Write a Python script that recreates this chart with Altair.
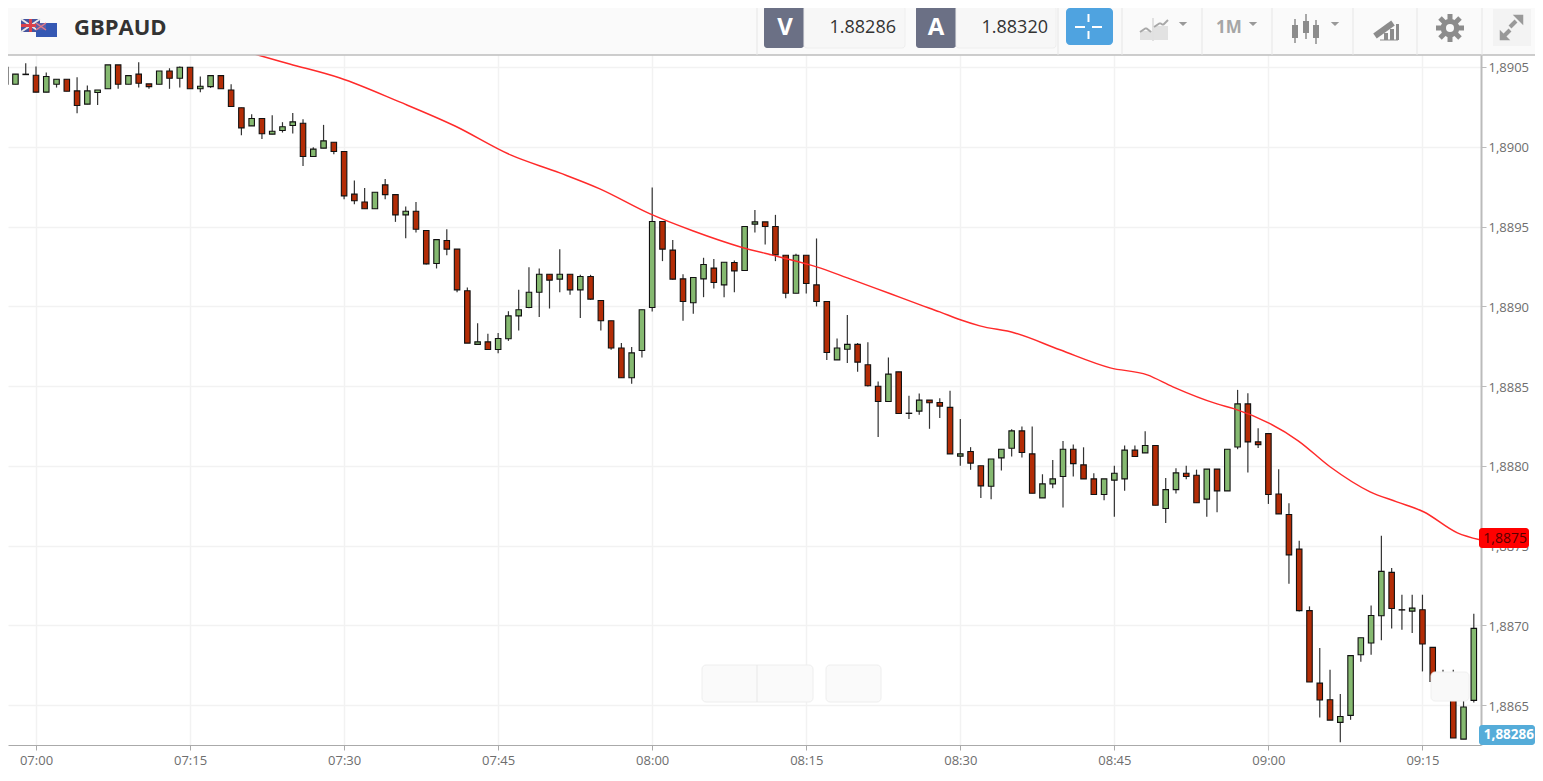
import altair as alt
import pandas as pd

# Candle values, one per minute from 06:57 (minute 417 of the day)
first_minute = 417
opens = [1.890498,1.890392,1.890452,1.890448,1.890342,1.890392,1.890423,1.890350,1.890267,1.890340,1.890363,1.890513,1.890392,1.890455,1.890394,1.890392,1.890475,1.890429,1.890498,1.890363,1.890377,1.890446,1.890356,1.890244,
 1.890131,1.890177,1.890079,1.890102,1.890133,1.890147,1.889939,1.889991,1.890028,1.889970,1.889703,1.889654,1.889611,1.889761,1.889700,1.889573,1.889596,1.889475,1.889268,1.889412,1.889358,1.889097,1.888761,1.888777,
 1.888729,1.888796,1.888940,1.888992,1.889088,1.889201,1.889170,1.889201,1.889103,1.889187,1.889036,1.888909,1.888738,1.888552,1.888723,1.888992,1.889531,1.889352,1.889172,1.889022,1.889172,1.889239,1.889134,1.889274,
 1.889224,1.889515,1.889529,1.889500,1.889320,1.889082,1.889320,1.889134,1.889030,1.888664,1.888731,1.888761,1.888633,1.888499,1.888403,1.888589,1.888330,1.888343,1.888412,1.888397,1.888366,1.888061,1.888090,1.888000,
 1.887872,1.888050,1.888110,1.888219,1.888075,1.887799,1.887887,1.887933,1.888104,1.888006,1.887918,1.887820,1.887910,1.887918,1.888098,1.888081,1.888127,1.887732,1.887851,1.887953,1.887941,1.887791,1.887979,1.887843,
 1.888118,1.888388,1.888150,1.888202,1.887823,1.887695,1.887478,1.887092,1.886638,1.886534,1.886392,1.886436,1.886816,1.886889,1.887060,1.887332,1.887098,1.887089,1.887098,1.886862,1.886649,1.886565,1.886287,1.886530]
closes = [1.890392,1.890455,1.890455,1.890342,1.890440,1.890423,1.890348,1.890258,1.890350,1.890356,1.890513,1.890392,1.890446,1.890398,1.890377,1.890475,1.890429,1.890498,1.890363,1.890379,1.890446,1.890363,1.890252,1.890118,
 1.890177,1.890081,1.890097,1.890125,1.890156,1.889939,1.889985,1.890037,1.889970,1.889692,1.889661,1.889611,1.889715,1.889700,1.889573,1.889596,1.889483,1.889266,1.889418,1.889358,1.889103,1.888769,1.888777,1.888729,
 1.888798,1.888940,1.888978,1.889088,1.889201,1.889164,1.889201,1.889103,1.889187,1.889045,1.888909,1.888738,1.888552,1.888708,1.888978,1.889531,1.889358,1.889170,1.889030,1.889180,1.889262,1.889149,1.889276,1.889222,
 1.889500,1.889529,1.889500,1.889322,1.889082,1.889320,1.889143,1.889030,1.888710,1.888738,1.888761,1.888650,1.888502,1.888403,1.888575,1.888328,1.888328,1.888412,1.888395,1.888374,1.888075,1.888075,1.888017,1.887874,
 1.888043,1.888104,1.888219,1.888083,1.887828,1.887887,1.887918,1.888104,1.888014,1.887918,1.887820,1.887918,1.887953,1.888098,1.888058,1.888127,1.887753,1.887851,1.887956,1.887933,1.887768,1.887979,1.887843,1.888104,
 1.888388,1.888150,1.888133,1.887820,1.887699,1.887442,1.887092,1.886645,1.886532,1.886406,1.886429,1.886810,1.886922,1.887062,1.887338,1.887106,1.887096,1.887108,1.886883,1.886649,1.886565,1.886294,1.886488,1.886981]
highs = [1.890498,1.890455,1.890523,1.890503,1.890465,1.890423,1.890423,1.890436,1.890384,1.890356,1.890513,1.890513,1.890446,1.890530,1.890394,1.890475,1.890492,1.890503,1.890498,1.890440,1.890446,1.890446,1.890392,1.890244,
 1.890204,1.890177,1.890198,1.890154,1.890212,1.890173,1.889997,1.890137,1.890028,1.889970,1.889788,1.889742,1.889715,1.889797,1.889700,1.889625,1.889654,1.889475,1.889418,1.889483,1.889358,1.889118,1.888894,1.888827,
 1.888832,1.888969,1.889103,1.889245,1.889237,1.889201,1.889358,1.889201,1.889197,1.889197,1.889036,1.888909,1.888769,1.888744,1.888978,1.889744,1.889531,1.889416,1.889201,1.889180,1.889304,1.889297,1.889276,1.889287,
 1.889500,1.889604,1.889529,1.889573,1.889320,1.889329,1.889320,1.889425,1.889030,1.888798,1.888946,1.888769,1.888775,1.888529,1.888679,1.888589,1.888439,1.888453,1.888412,1.888424,1.888470,1.888293,1.888117,1.888000,
 1.888043,1.888104,1.888229,1.888246,1.888246,1.887947,1.888037,1.888156,1.888133,1.888116,1.887953,1.887918,1.888000,1.888127,1.888127,1.888217,1.888127,1.887924,1.887985,1.888000,1.887976,1.887979,1.887979,1.888104,
 1.888476,1.888455,1.888235,1.888202,1.887979,1.887766,1.887530,1.887119,1.886858,1.886722,1.886569,1.886810,1.886922,1.887125,1.887561,1.887359,1.887192,1.887192,1.887192,1.886862,1.886722,1.886722,1.886534,1.887073]
lows = [1.890363,1.890392,1.890452,1.890342,1.890342,1.890371,1.890348,1.890210,1.890267,1.890262,1.890363,1.890363,1.890392,1.890371,1.890363,1.890392,1.890363,1.890371,1.890363,1.890342,1.890369,1.890363,1.890252,1.890072,
 1.890131,1.890049,1.890079,1.890089,1.890083,1.889880,1.889939,1.889991,1.889953,1.889671,1.889640,1.889611,1.889611,1.889671,1.889529,1.889427,1.889462,1.889262,1.889237,1.889320,1.889088,1.888769,1.888761,1.888727,
 1.888706,1.888783,1.888848,1.888988,1.888932,1.888986,1.889088,1.889072,1.888926,1.889040,1.888848,1.888727,1.888552,1.888514,1.888679,1.888967,1.889283,1.889166,1.888909,1.888953,1.889057,1.889111,1.889057,1.889088,
 1.889224,1.889462,1.889387,1.889283,1.889051,1.889082,1.889080,1.888999,1.888664,1.888664,1.888644,1.888589,1.888497,1.888180,1.888403,1.888324,1.888293,1.888320,1.888232,1.888299,1.888075,1.888000,1.887975,1.887799,
 1.887791,1.887970,1.888058,1.888052,1.887828,1.887799,1.887860,1.887738,1.887933,1.887918,1.887820,1.887784,1.887680,1.887843,1.888058,1.888081,1.887753,1.887642,1.887826,1.887916,1.887768,1.887680,1.887709,1.887843,
 1.888104,1.887958,1.888112,1.887761,1.887699,1.887261,1.887087,1.886645,1.886423,1.886406,1.886267,1.886408,1.886772,1.886816,1.886906,1.886981,1.886972,1.886952,1.886711,1.886649,1.886565,1.886294,1.886287,1.886517]

# Moving average
ma_minutes = [439.9,441.6,444.7,449.6,455.4,460.8,466.2,471.0,474.9,479.8,484.0,488.6,492.4,496.0,499.0,503.2,506.1,508.0,510.0,511.9,
 515.3,519.7,524.6,528.2,530.7,535.0,536.7,540.0,542.9,546.0,549.9,552.5,555.1,558.4,560.6]
ma_values = [1.890607,1.890575,1.890519,1.890431,1.890281,1.890130,1.889949,1.889836,1.889736,1.889579,1.889472,1.889372,1.889309,1.889247,1.889178,1.889078,1.889009,1.888965,1.888915,1.888877,
 1.888833,1.888727,1.888614,1.888570,1.888495,1.888388,1.888357,1.888269,1.888157,1.887994,1.887837,1.887774,1.887712,1.887580,1.887536]

y_ticks = [1.8865,1.8870,1.8875,1.8880,1.8885,1.8890,1.8895,1.8900,1.8905]
x_ticks = [420,435,450,465,480,495,510,525,540,555]

GREEN, RED = "#85b970", "#b32c06"
FONT = "Open Sans"
PAD_L, PAD_T = 8, 55   # page position of the plot's corner

candles = pd.DataFrame({"minute":[first_minute+i for i in range(len(opens))],
                        "open":opens,"close":closes,"high":highs,"low":lows})
candles["dir"] = ["up" if c >= o else "down" for o,c in zip(opens,closes)]
ma = pd.DataFrame({"minute":ma_minutes,"value":ma_values})

xs = alt.Scale(domain=[417.274,560.70], nice=False, zero=False, padding=0)
ys = alt.Scale(domain=[1.88625,1.890575], nice=False, zero=False, padding=0)
x_labels = ("(floor(datum.value/60)<10?'0':'')+floor(datum.value/60)+':'+"
            "(datum.value%60<10?'0':'')+(datum.value%60)")
x_axis = alt.Axis(values=x_ticks, labelExpr=x_labels, title=None, grid=True, gridColor="#f2f2f2", gridWidth=1.5,
                  domainColor="#aaaaaa", domainWidth=1, tickColor="#aaaaaa", tickSize=5, labelColor="#6e6e6e",
                  labelFont=FONT, labelFontSize=13, labelPadding=4, labelFlush=False)
y_axis = alt.Axis(values=y_ticks, orient="right", labelExpr="replace(format(datum.value,'.4f'),'.',',')", title=None,
                  grid=True, gridColor="#f2f2f2", gridWidth=1.5, domainColor="#bbbbbb", domainWidth=2,
                  tickColor="#bbbbbb", tickSize=5, labelColor="#6e6e6e", labelFont=FONT, labelFontSize=13, labelPadding=2,
                  labelOffset=1)

wicks = alt.Chart(candles).mark_rule(color="#333333", strokeWidth=1.2).encode(
    x=alt.X("minute:Q", scale=xs, axis=x_axis),
    y=alt.Y("high:Q", scale=ys, axis=y_axis), y2="low:Q")
bodies = alt.Chart(candles).mark_bar(width=5.5, stroke="#111111", strokeWidth=1.1).encode(
    x=alt.X("minute:Q", scale=xs),
    y=alt.Y("open:Q", scale=ys), y2="close:Q",
    color=alt.Color("dir:N", scale=alt.Scale(domain=["up","down"], range=[GREEN,RED]), legend=None))
ma_line = alt.Chart(ma).mark_line(color="#ff2a2a", strokeWidth=1.5, clip=True, interpolate="monotone").encode(
    x=alt.X("minute:Q", scale=xs), y=alt.Y("value:Q", scale=ys))

one = pd.DataFrame({"a":[0]})
def box(x1, y1, x2, y2, fill, stroke=None, radius=0, sw=1):
    kw = dict(fill=fill, cornerRadius=radius)
    if stroke:
        kw.update(stroke=stroke, strokeWidth=sw)
    return alt.Chart(one).mark_rect(**kw).encode(x=alt.value(x1-PAD_L), x2=alt.value(x2-PAD_L),
                                                 y=alt.value(y1-PAD_T), y2=alt.value(y2-PAD_T))
def seg(x1, y1, x2, y2, color, sw=1):
    return alt.Chart(one).mark_rule(color=color, strokeWidth=sw).encode(x=alt.value(x1-PAD_L), x2=alt.value(x2-PAD_L),
                                                 y=alt.value(y1-PAD_T), y2=alt.value(y2-PAD_T))
def txt(s, x, y, size, color, align="center", weight="normal", font=FONT):
    return alt.Chart(one).mark_text(text=s, fontSize=size, color=color, align=align, baseline="middle",
                                    fontWeight=weight, font=font).encode(x=alt.value(x-PAD_L), y=alt.value(y-PAD_T))
def shape(path, x, y, size, color, angle=0):
    return alt.Chart(one).mark_point(shape=path, size=size, fill=color, filled=True, color=color, opacity=1, angle=angle, strokeWidth=0).encode(
        x=alt.value(x-PAD_L), y=alt.value(y-PAD_T))

ICON = "#8c8c8c"
DOWN = "M-1,-0.5L1,-0.5L0,0.5Z"
chrome = [
    # ghost buttons over the plot
    box(702,665,813,702,"#fafafa","#eeeeee",4), seg(757,665,757,702,"#e8e8e8"),
    box(826,665,881,702,"#fafafa","#eeeeee",4),
    box(1431,672,1469,701,"#f9f9f9","#f0f0f0",4),
    # price labels
    box(1479,528,1529,548,"#ff0000",None,3), txt("1,8875",1527,539,14,"#5a0000","right"),
    box(1479,725,1535,745,"#55acd9",None,3), txt("1,88286",1534,735,13.5,"#ffffff","right","bold"),
    # header
    box(0,0,1543,55,"#fafafa"), seg(0,55,1543,55,"#bdbdbd",1.5),
    # flags
    box(21,19,40,32,"#45549e"), seg(21,19,40,32,"#e8e8e8",2), seg(21,32,40,19,"#e8e8e8",2),
    seg(30.5,19,30.5,32,"#d9414a",3), seg(21,25.5,40,25.5,"#d9414a",3),
    box(36,23,57,37,"#3558b3"), box(36,23,46,30,"#5c5fa8"),
    seg(36,23,46,30,"#e57a86",1.5), seg(36,30,46,23,"#e57a86",1.5),
    txt("GBPAUD",74,28,22,"#333333","left","bold"),
    # quotes
    box(764,6,804,48,"#6b7085",None,3), box(804,6,905,48,"#f7f7f7","#eeeeee",3),
    txt("V",785,28,24,"#ffffff","center","bold"), txt("1.88286",896,28,18,"#333333","right"),
    box(916,6,956,48,"#6b7085",None,3), box(956,6,1056,48,"#f7f7f7","#eeeeee",3),
    txt("A",936,28,24,"#ffffff","center","bold"), txt("1.88320",1048,28,18,"#333333","right"),
    box(1066,8,1113,45,"#4fa3e0",None,4),
    seg(1075,27,1085,27,"#ffffff",2), seg(1092,27,1102,27,"#ffffff",2),
    seg(1088.5,14,1088.5,22,"#ffffff",2), seg(1088.5,31,1088.5,39,"#ffffff",2),
]
for sx in [757,1058,1122,1202,1272,1353,1417,1482]:
    chrome.append(seg(sx,0,sx,55,"#e6e6e6"))
chrome += [
    # chart-type icon
    box(1140,31,1152,40,"#e2e2e2"), box(1154,26,1168,40,"#e2e2e2"),
    seg(1140,32,1146,28,"#a8a8a8",2), seg(1146,28,1151,32,"#a8a8a8",2),
    seg(1154,27,1160,23,"#a8a8a8",2), seg(1160,23,1163,25,"#a8a8a8",2), seg(1163,25,1168,20,"#a8a8a8",2),
    seg(1153,18,1153,41,"#c8c8c8",1),
    shape(DOWN,1183,24,70,"#999999"), shape(DOWN,1253,24,70,"#999999"), shape(DOWN,1335,24,70,"#999999"),
    txt("1M",1216,28,17,"#a6a6a6","left","bold"),
    # candle icon
    seg(1295,19,1295,43,ICON,1.5), box(1292,25,1298,38,ICON),
    seg(1306,14,1306,39,ICON,1.5), box(1303,21,1309,33,ICON),
    seg(1316,20,1316,44,ICON,1.5), box(1313,25,1319,38,ICON),
    # drawing icon
    seg(1375,36,1393,23,ICON,6), seg(1380,40,1398,40,ICON,1),
    box(1384,33,1388,40,ICON), box(1390,29,1394,40,ICON), box(1396,24,1399,40,ICON),
    # settings icon
    seg(1436,28,1464,28,ICON,5), seg(1450,14,1450,42,ICON,5),
    seg(1440,18,1460,38,ICON,5), seg(1440,38,1460,18,ICON,5),
    shape("circle",1450,28,346,ICON), shape("circle",1450,28,64,"#fafafa"),
    # expand icon
    box(1493,9,1531,46,"#f3f3f3"),
    seg(1510,27,1516,21,"#999999",4), seg(1504,36,1510,30,"#999999",4),
    shape("M-1,-1L1,-1L1,1Z",1518,20,110,"#999999"), shape("M-1,-1L1,1L-1,1Z",1505,35,110,"#999999"),
]

chart = alt.layer(wicks, bodies, ma_line, *chrome).properties(
    width=1473, height=690,
    padding={"left":PAD_L-8,"top":47,"right":54,"bottom":23},
    autosize=alt.AutoSizeParams(type="none"),
).configure_view(stroke=None)

chart.save("out.html", embed_options={"renderer": "svg", "actions": False})
